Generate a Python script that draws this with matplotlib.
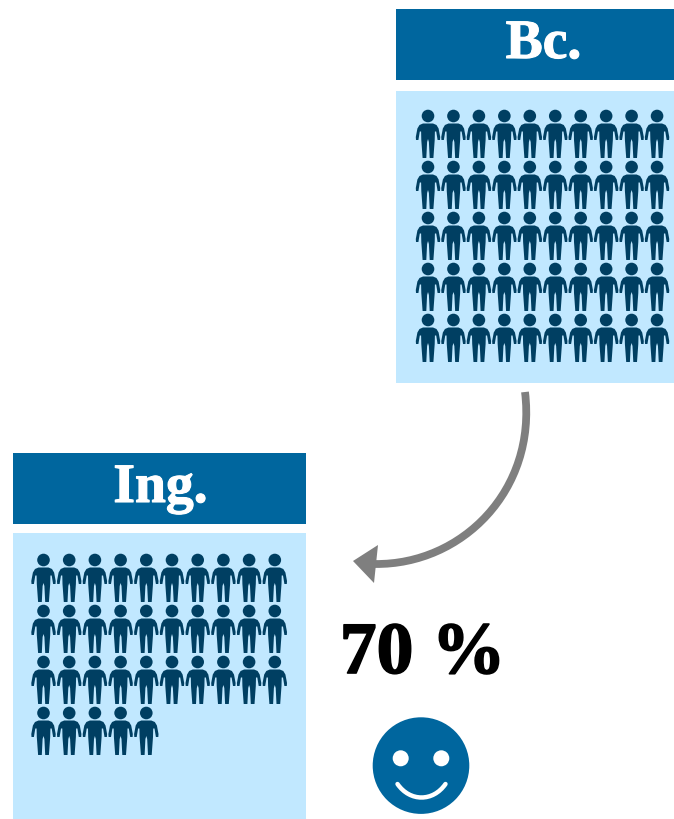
import matplotlib
matplotlib.use('Agg')
import matplotlib.pyplot as plt
import matplotlib.patheffects as pe
from matplotlib.patches import Rectangle, Circle, Polygon, PathPatch
from matplotlib.path import Path

W, H = 674, 820

labels = ['Bc.', 'Ing.']
people = [50, 35]
per_row = 10
percent_label = '70 %'

blue = '#00669E'
light = '#C1E8FF'
dark = '#003F62'
grey = '#7F7F7F'

# icon outline, right half, measured from top of the head
half = [(0, 13.5), (5, 13.5), (8.5, 15), (10.6, 18.5), (12.2, 27), (12, 30), (9.6, 30),
        (8.2, 21.5), (6.9, 21.5), (6.7, 30), (5.4, 48), (1.7, 48), (0.9, 32), (0, 29)]


def person(ax, x, y, s=1.0):
    ax.add_patch(Circle((x, y + 6 * s), 6.3 * s, fc=dark, ec='none'))
    pts = [(x + a * s, y + b * s) for a, b in half]
    pts += [(x - a * s, y + b * s) for a, b in reversed(half)]
    ax.add_patch(Polygon(pts, closed=True, fc=dark, ec='none'))


def block(ax, label, n, x0, x1, head_y, panel_y, first_x, first_y, dx, label_x, label_y):
    ax.add_patch(Rectangle((x0, head_y[0]), x1 - x0, head_y[1] - head_y[0], fc=blue, ec='none'))
    ax.add_patch(Rectangle((x0, panel_y[0]), x1 - x0, panel_y[1] - panel_y[0], fc=light, ec='none'))
    ax.text(label_x, label_y, label, color='white', fontsize=40,
            fontweight='bold', family='Liberation Serif', ha='center', va='center',
            path_effects=[pe.withStroke(linewidth=0.8, foreground='white')])
    for i in range(n):
        person(ax, first_x + (i % per_row) * dx, first_y + (i // per_row) * 51)


fig = plt.figure(figsize=(W / 100, H / 100), dpi=100)
ax = fig.add_axes([0, 0, 1, 1])
ax.set_xlim(0, W)
ax.set_ylim(H - 1, -1)
ax.axis('off')

block(ax, labels[0], people[0], 396, 674, (9, 80), (91, 383), 428, 110, 25.45, 543.5, 44)
block(ax, labels[1], people[1], 13, 306, (453, 524), (533, 821), 43.5, 554, 25.7, 160.5, 488)

# curved arrow
curve = Path([(525, 392), (537, 490), (462, 565), (375, 564)],
             [Path.MOVETO, Path.CURVE4, Path.CURVE4, Path.CURVE4])
ax.add_patch(PathPatch(curve, fc='none', ec=grey, lw=5.6, capstyle='butt'))
ax.add_patch(Polygon([(353, 561), (378, 545), (374, 583)], closed=True, fc=grey, ec='none'))

ax.text(422.5, 655, percent_label, color='black', fontsize=53, fontweight='bold',
        family='Liberation Serif', ha='center', va='center',
        path_effects=[pe.withStroke(linewidth=1.2, foreground='black')])

# smiley
ax.add_patch(Circle((421, 765.6), 48.3, fc=blue, ec='none'))
ax.add_patch(Circle((400.7, 758.3), 8, fc='white', ec='none'))
ax.add_patch(Circle((441.3, 758.3), 8, fc='white', ec='none'))
smile = Path([(397.5, 784), (410, 802), (433, 802), (445.5, 784)],
             [Path.MOVETO, Path.CURVE4, Path.CURVE4, Path.CURVE4])
ax.add_patch(PathPatch(smile, fc='none', ec='white', lw=3.2, capstyle='round'))

fig.savefig('out.png', dpi=100, facecolor='white')
